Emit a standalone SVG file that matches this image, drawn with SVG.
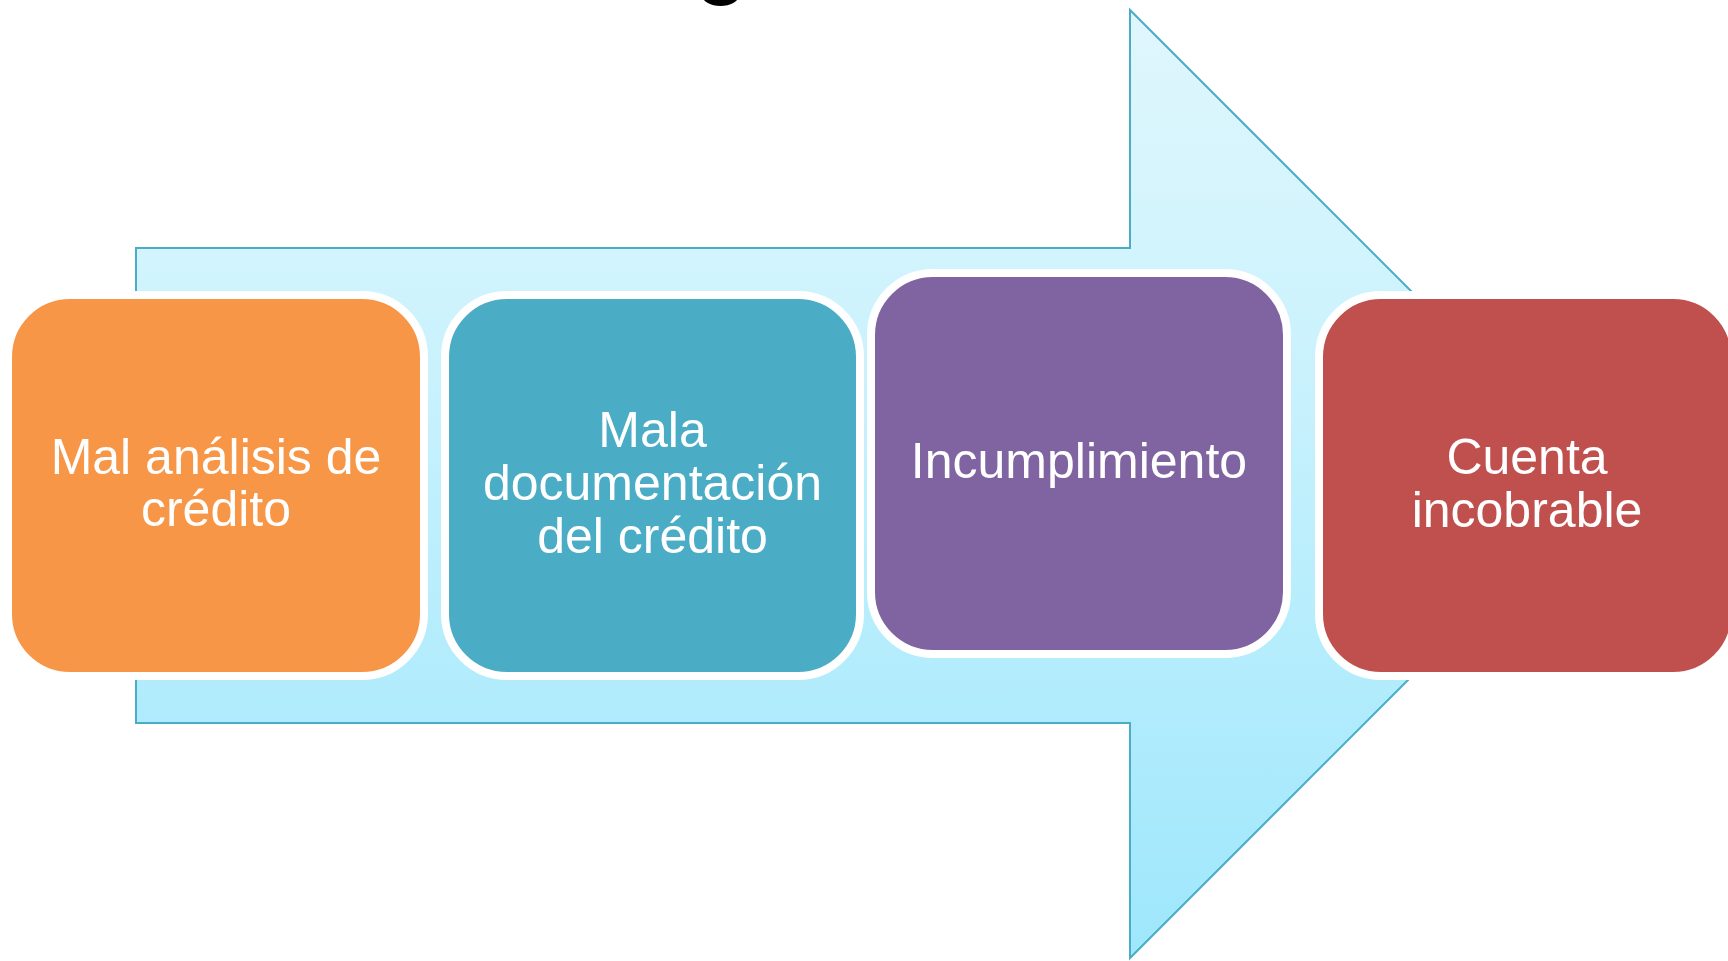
<svg xmlns="http://www.w3.org/2000/svg" width="1728" height="961" viewBox="0 0 1728 961">
  <defs>
    <linearGradient id="arrowGrad" x1="0" y1="10" x2="0" y2="958" gradientUnits="userSpaceOnUse">
      <stop offset="0" stop-color="#e0f6fc"/>
      <stop offset="0.25" stop-color="#d2f4fd"/>
      <stop offset="1" stop-color="#9ee7fc"/>
    </linearGradient>
  </defs>
  <style>
    .box { stroke: #ffffff; stroke-width: 8; }
    .lbl { font-family: "Liberation Sans", Arial, sans-serif; font-size: 50px; fill: #ffffff; text-anchor: middle; }
  </style>
  <rect width="1728" height="961" fill="#ffffff"/>
  <ellipse cx="720.5" cy="-4" rx="18" ry="10" fill="#000000"/>
  <g id="connectors">
    <path d="M136,248 L1130,248 L1130,10 L1604,484 L1130,958 L1130,723 L136,723 Z" fill="url(#arrowGrad)" stroke="#4bacc6" stroke-width="2"/>
  </g>
  <g id="node1">
    <rect class="box" x="8" y="295" width="416" height="381" rx="62" ry="62" fill="#f79646"/>
    <text class="lbl" x="216" y="474">Mal análisis de</text>
    <text class="lbl" x="216" y="526">crédito</text>
  </g>
  <g id="node2">
    <rect class="box" x="445" y="295" width="415" height="381" rx="62" ry="62" fill="#4bacc6"/>
    <text class="lbl" x="652.5" y="447">Mala</text>
    <text class="lbl" x="652.5" y="500">documentación</text>
    <text class="lbl" x="652.5" y="553">del crédito</text>
  </g>
  <g id="node3">
    <rect class="box" x="871" y="273" width="416" height="381" rx="62" ry="62" fill="#8064a2"/>
    <text class="lbl" x="1079" y="478">Incumplimiento</text>
  </g>
  <g id="node4">
    <rect class="box" x="1319" y="295" width="416" height="381" rx="62" ry="62" fill="#c0504d"/>
    <text class="lbl" x="1527" y="474">Cuenta</text>
    <text class="lbl" x="1527" y="527">incobrable</text>
  </g>
</svg>
